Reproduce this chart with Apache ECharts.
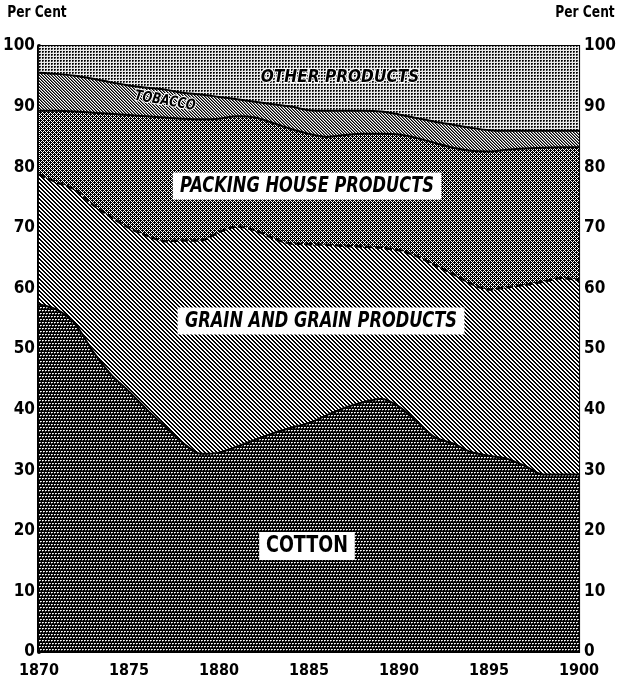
<!DOCTYPE html>
<html>
<head>
<meta charset="utf-8">
<script src="https://cdn.jsdelivr.net/npm/echarts@6/dist/echarts.min.js"></script>
<style>
html,body{margin:0;padding:0;background:#fff;}
#chart{width:619px;height:685px;}
</style>
</head>
<body>
<div id="chart"></div>
<script>
// ---- Data (share of exports, per cent) ----
var years = [1870,1871,1872,1873,1874,1875,1876,1877,1878,1879,1880,1881,1882,1883,1884,1885,1886,1887,1888,1889,1890,1891,1892,1893,1894,1895,1896,1897,1898,1899,1900];
var cotton  = [57.4,56.5,54.2,49.6,45.8,43.0,40.0,37.2,34.5,32.7,32.9,33.9,35.0,36.1,37.0,37.8,39.1,40.3,41.2,41.8,40.5,38.0,35.4,34.4,33.0,32.4,31.9,30.7,29.3,29.3,29.3];
var grain   = [21.4,21.0,22.1,24.2,26.0,27.0,28.7,30.6,33.4,35.2,36.4,36.3,34.6,32.2,30.4,29.5,28.1,26.7,25.7,24.9,25.8,27.3,28.4,28.0,27.8,27.4,28.3,29.9,31.8,32.4,32.1];
var packing = [10.5,11.8,12.9,15.2,17.0,18.6,19.7,20.4,20.1,20.0,18.7,18.2,18.6,19.0,18.9,18.2,17.8,18.3,18.6,18.8,19.1,19.5,20.2,20.8,21.9,22.8,22.7,22.5,22.1,21.6,21.9];
var tobacco = [6.3,6.1,5.9,5.6,5.2,4.9,4.7,4.6,4.3,4.1,3.6,2.8,2.6,3.1,3.7,3.9,4.3,4.0,3.8,3.7,3.3,3.3,3.5,3.8,3.8,3.5,3.1,2.9,2.8,2.7,2.7];
var other   = [4.4,4.6,4.9,5.4,6.0,6.5,6.9,7.2,7.7,8.0,8.4,8.8,9.2,9.6,10.0,10.6,10.7,10.7,10.7,10.8,11.3,11.9,12.5,13.0,13.5,13.9,14.0,14.0,14.0,14.0,14.0];
var seriesNames = ['COTTON','GRAIN AND GRAIN PRODUCTS','PACKING HOUSE PRODUCTS','TOBACCO','OTHER PRODUCTS'];
var yTicks = [0,10,20,30,40,50,60,70,80,90,100];

// ---- pattern tiles ----
function makeTile(w, h, fn) {
  var c = document.createElement('canvas');
  c.width = w; c.height = h;
  var ctx = c.getContext('2d');
  var img = ctx.createImageData(w, h);
  for (var y = 0; y < h; y++) {
    for (var x = 0; x < w; x++) {
      var v = fn(x, y); // 0 black .. 255 white
      var i = (y * w + x) * 4;
      img.data[i] = v; img.data[i+1] = v; img.data[i+2] = v; img.data[i+3] = 255;
    }
  }
  ctx.putImageData(img, 0, 0);
  return { image: c, repeat: 'repeat' };
}
var patCotton = makeTile(6, 6, function (x, y) {
  var ox = (Math.floor(y / 3) % 2) * 1;
  var xx = (x + ox) % 3, yy = y % 3;
  if (xx === 1 && yy === 1) return 255;
  if (xx === 2 && yy === 1) return 200;
  if (xx === 1 && yy === 2) return 90;
  return 0;
});
var patGrain = makeTile(4, 4, function (x, y) {
  var d = ((x - y) % 4 + 4) % 4;
  return (d === 0 || d === 1) ? 0 : 255;
});
var patPacking = makeTile(4, 4, function (x, y) {
  if ((x + y) % 2 === 1) return 0;
  if ((x % 2 === 0) && ((x + y) % 4 === 0)) return 0;
  return 255;
});
var patTobacco = makeTile(3, 3, function (x, y) {
  var d = ((x - y) % 3 + 3) % 3;
  return d === 0 ? 0 : (d === 1 ? 120 : 255);
});
var patOther = makeTile(3, 3, function (x, y) {
  if (x === 0 && y === 0) return 0;
  if ((x === 1 && y === 0) || (x === 0 && y === 1)) return 40;
  if (x === 1 && y === 1) return 140;
  return 235;
});

var FONT = "'Liberation Sans Narrow','DejaVu Sans Condensed','DejaVu Sans',sans-serif";

function areaSeries(name, data, pat, line) {
  return {
    name: name, type: 'line', stack: 'total', data: data,
    symbol: 'none', smooth: 0.3,
    lineStyle: line,
    areaStyle: { color: pat, opacity: 1 },
    emphasis: { disabled: true }
  };
}

var chart = echarts.init(document.getElementById('chart'), null, { renderer: 'canvas' });
var option = {
  animation: false,
  backgroundColor: '#fff',
  grid: { left: 35, right: 34, top: 46, bottom: 33, show: true, borderColor: '#000', borderWidth: 2, backgroundColor: 'transparent' },
  xAxis: {
    type: 'category', data: years, boundaryGap: false,
    axisLine: { show: false }, axisTick: { show: false }, splitLine: { show: false },
    axisLabel: { interval: 4, color: '#000', fontFamily: FONT, fontWeight: 'bold', fontSize: 16, margin: 11 }
  },
  yAxis: [
    { type: 'value', min: 0, max: 100, interval: 10, position: 'left',
      axisLine: { show: true, lineStyle: { color: '#000', width: 4 } }, axisTick: { show: false }, splitLine: { show: false },
      axisLabel: { color: '#000', fontFamily: FONT, fontWeight: 'bold', fontSize: 17, margin: 4 } },
    { type: 'value', min: 0, max: 100, interval: 10, position: 'right',
      axisLine: { show: true, lineStyle: { color: '#000', width: 2 } }, axisTick: { show: false }, splitLine: { show: false },
      axisLabel: { color: '#000', fontFamily: FONT, fontWeight: 'bold', fontSize: 17, margin: 5 } }
  ],
  series: [
    areaSeries(seriesNames[0], cotton, patCotton, { color: '#000', width: 2 }),
    areaSeries(seriesNames[1], grain, patGrain, { color: '#000', width: 2.5, type: [7, 3] }),
    areaSeries(seriesNames[2], packing, patPacking, { color: '#000', width: 2 }),
    areaSeries(seriesNames[3], tobacco, patTobacco, { color: '#000', width: 2 }),
    areaSeries(seriesNames[4], other, patOther, { color: '#000', width: 0 })
  ],
  graphic: [
    { type: 'text', x: 37, y: 13, scaleX: 0.85, style: { text: 'Per Cent', fill: '#000', font: "bold 16px " + FONT, align: 'center', verticalAlign: 'middle' } },
    { type: 'text', x: 585, y: 13, scaleX: 0.85, style: { text: 'Per Cent', fill: '#000', font: "bold 16px " + FONT, align: 'center', verticalAlign: 'middle' } },
    { type: 'text', x: 340, y: 77, scaleX: 0.95, style: { text: 'OTHER PRODUCTS', fill: '#000', font: "italic bold 18px " + FONT, align: 'center', verticalAlign: 'middle', stroke: '#fff', lineWidth: 2 }, z: 100 },
    { type: 'text', x: 165, y: 101, rotation: -0.17, scaleX: 0.85, style: { text: 'TOBACCO', fill: '#000', font: "italic bold 15px " + FONT, align: 'center', verticalAlign: 'middle', stroke: '#fff', lineWidth: 2 }, z: 100 },
    { type: 'text', x: 307, y: 186, scaleX: 0.82, style: { text: 'PACKING HOUSE PRODUCTS', fill: '#000', font: "italic bold 22px " + FONT, align: 'center', verticalAlign: 'middle', backgroundColor: '#fff', padding: [3, 9, 2, 9] }, z: 100 },
    { type: 'text', x: 321, y: 321, scaleX: 0.82, style: { text: 'GRAIN AND GRAIN PRODUCTS', fill: '#000', font: "italic bold 22px " + FONT, align: 'center', verticalAlign: 'middle', backgroundColor: '#fff', padding: [3, 9, 2, 9] }, z: 100 },
    { type: 'text', x: 307, y: 546, scaleX: 0.85, style: { text: 'COTTON', fill: '#000', font: "bold 23px " + FONT, align: 'center', verticalAlign: 'middle', backgroundColor: '#fff', padding: [3, 8, 2, 8] }, z: 100 }
  ]
};
chart.setOption(option);
</script>
</body>
</html>
